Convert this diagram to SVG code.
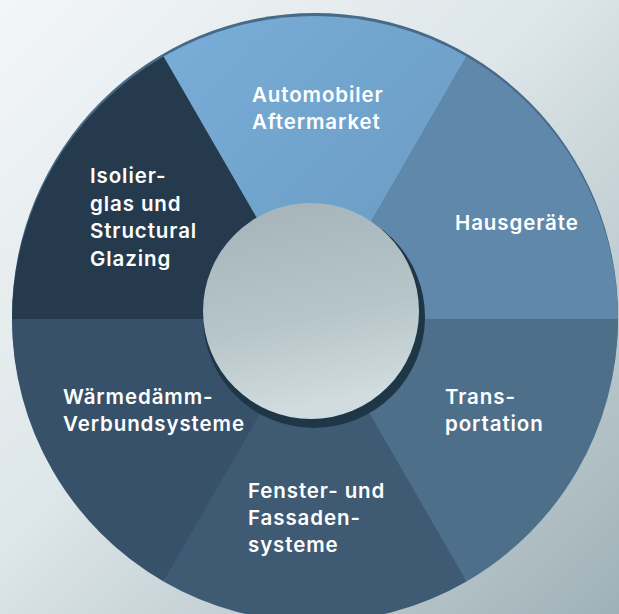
<svg xmlns="http://www.w3.org/2000/svg" width="619" height="614" viewBox="0 0 619 614">
  <defs>
    <linearGradient id="bg" x1="0" y1="0" x2="1" y2="1">
      <stop offset="0" stop-color="#f3f6f7"/>
      <stop offset="0.45" stop-color="#dde6e9"/>
      <stop offset="1" stop-color="#9fb1b7"/>
    </linearGradient>
    <linearGradient id="disc" x1="0" y1="0" x2="0.2" y2="1">
      <stop offset="0" stop-color="#a3b3b8"/>
      <stop offset="0.6" stop-color="#b6c5c9"/>
      <stop offset="1" stop-color="#d0dcdf"/>
    </linearGradient>
    <linearGradient id="gTop" x1="0" y1="0" x2="1" y2="1">
      <stop offset="0" stop-color="#79aed8"/>
      <stop offset="1" stop-color="#6898c0"/>
    </linearGradient>
    <style>
      .lbl { font-family: Inter, "Liberation Sans", sans-serif; font-weight: 600; font-size: 20.5px; letter-spacing: 0.9px; fill: #ffffff; }
    </style>
  </defs>

  <rect width="619" height="614" fill="url(#bg)"/>

  <!-- outer rim -->
  <circle cx="315" cy="316" r="303" fill="#466a88"/>

  <g id="connectors"></g>

  <g id="seg-automobiler">
    <path d="M315 319 L163.5 56.6 A303 303 0 0 1 466.5 56.6 Z" fill="url(#gTop)"/>
    <text class="lbl" x="252" y="102">Automobiler</text>
    <text class="lbl" x="252" y="129">Aftermarket</text>
  </g>
  <g id="seg-hausgeraete">
    <path d="M315 319 L466.5 56.6 A303 303 0 0 1 618 319 Z" fill="#5f88ab"/>
    <text class="lbl" x="455" y="230">Hausgeräte</text>
  </g>
  <g id="seg-transportation">
    <path d="M315 319 L618 319 A303 303 0 0 1 466.5 581.4 Z" fill="#4e6f8a"/>
    <text class="lbl" x="445" y="404">Trans-</text>
    <text class="lbl" x="445" y="431">portation</text>
  </g>
  <g id="seg-fenster">
    <path d="M315 319 L466.5 581.4 A303 303 0 0 1 163.5 581.4 Z" fill="#3f5b73"/>
    <text class="lbl" x="248" y="498">Fenster- und</text>
    <text class="lbl" x="248" y="525">Fassaden-</text>
    <text class="lbl" x="248" y="552">systeme</text>
  </g>
  <g id="seg-waermedaemm">
    <path d="M315 319 L163.5 581.4 A303 303 0 0 1 12 319 Z" fill="#37516a"/>
    <text class="lbl" x="63" y="404">Wärmedämm-</text>
    <text class="lbl" x="63" y="431">Verbundsysteme</text>
  </g>
  <g id="seg-isolierglas">
    <path d="M315 319 L12 319 A303 303 0 0 1 163.5 56.6 Z" fill="#253b4d"/>
    <text class="lbl" x="90" y="183">Isolier-</text>
    <text class="lbl" x="90" y="210.5">glas und</text>
    <text class="lbl" x="90" y="238">Structural</text>
    <text class="lbl" x="90" y="265.5">Glazing</text>
  </g>

  <g id="hub">
    <circle cx="314" cy="317" r="111" fill="#1f3647"/>
    <circle cx="311" cy="311" r="108" fill="url(#disc)"/>
  </g>
</svg>
